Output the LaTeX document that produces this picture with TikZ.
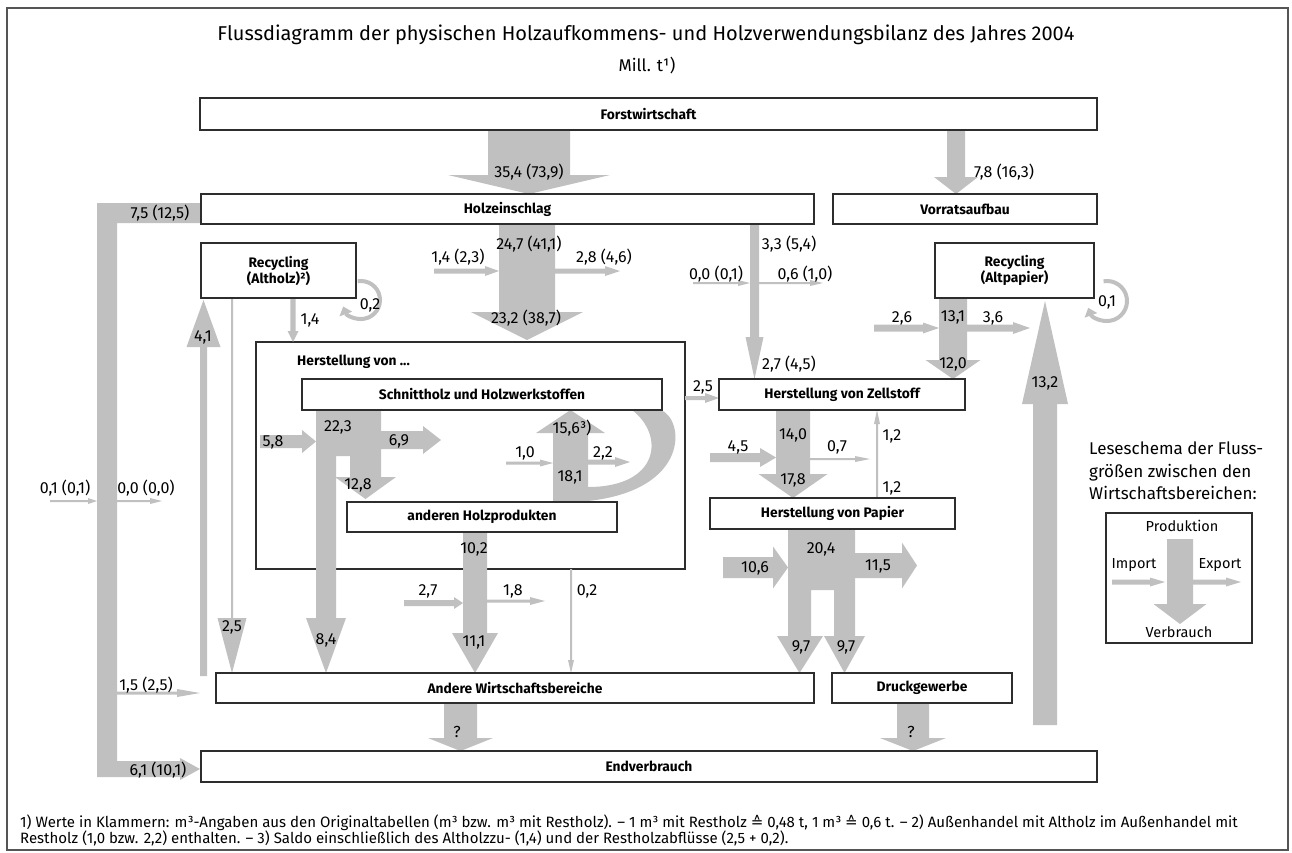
\documentclass[tikz,border=0pt]{standalone}
\usepackage{fontspec}
\setmainfont{Fira Sans}
\newfontfamily\dejavu{DejaVu Sans}
\usetikzlibrary{arrows.meta}
\definecolor{flow}{RGB}{192,192,192}
\definecolor{edge}{RGB}{45,45,45}
\definecolor{framec}{RGB}{85,85,85}
% vertical flow arrow: x-centre, y-start, y-headbase, y-tip, half shaft, half head
\newcommand\VA[6]{\fill[flow] ({#1-#5},#2) -- ({#1+#5},#2) -- ({#1+#5},#3) -- ({#1+#6},#3) -- (#1,#4) -- ({#1-#6},#3) -- ({#1-#5},#3) -- cycle;}
% horizontal flow arrow: y-centre, x-start, x-headbase, x-tip, half shaft, half head
\newcommand\HA[6]{\fill[flow] (#2,{#1-#5}) -- (#2,{#1+#5}) -- (#3,{#1+#5}) -- (#3,{#1+#6}) -- (#4,#1) -- (#3,{#1-#6}) -- (#3,{#1-#5}) -- cycle;}
\newcommand\bx[6]{\node[box, minimum width={#4-#2}, minimum height={#5-#3}] (#1) at ({(#2+#4)/2},{(#3+#5)/2}) {#6};}
\newcommand\lab[4]{\node[num] (#1) at (#2,#3) {#4};}
\begin{document}
\begin{tikzpicture}[x=1pt,y=-1pt,
  box/.style={draw=edge, line width=1.3pt, fill=white, inner sep=0pt, outer sep=0pt,
              font=\fontsize{13.8}{16}\selectfont\bfseries, align=center},
  num/.style={font=\fontsize{16}{18}\selectfont, inner sep=0pt},
  loopline/.style={draw=flow, line width=4pt, -{Triangle[length=8pt,width=13pt]}},
]
\useasboundingbox (0,0) rectangle (1292,852);
\draw[framec, line width=2pt] (7,8) rectangle (1288,850);

% title
\node[font=\fontsize{20}{24}\selectfont] (title) at (646,35) {Flussdiagramm der physischen Holzaufkommens- und Holzverwendungsbilanz des Jahres 2004};
\node[font=\fontsize{17}{20}\selectfont] (unit) at (647,66) {Mill. t¹)};

% outer production box
\node[draw=edge, line width=1.3pt, fill=white, minimum width=429, minimum height=227, inner sep=0pt] (herst) at (470.5,455.5) {};
\node[font=\fontsize{13.8}{16}\selectfont\bfseries, anchor=west, inner sep=0pt] (hersttxt) at (297,362) {Herstellung von ...};

% ---------- flows ----------
% left L-band 7,5
\fill[flow] (97,203) -- (201,203) -- (201,223) -- (117,223) -- (117,761) -- (180,761) -- (180,758)
  -- (200,769) -- (180,780) -- (180,777) -- (97,777) -- cycle;
\HA{501}{50}{88}{97}{1}{3}
\HA{501}{117}{150}{162}{1}{3}
\HA{693}{117}{177}{200}{1.5}{4}

% Forstwirtschaft -> Holzeinschlag / Vorratsaufbau
\VA{529}{130}{175}{194}{41}{81}
\VA{956}{130}{177}{194}{9}{22}

% Holzeinschlag -> Herstellung
\VA{527}{224}{312}{340}{28}{56}
\HA{271}{434}{485}{499}{2.5}{5}
\HA{271}{555}{605}{620}{2.5}{5}

% Holzeinschlag -> Zellstoff
\VA{754.5}{224}{337}{379}{4.5}{9}
\HA{283}{693}{738}{750}{1}{3}
\HA{283}{759}{810}{823}{1}{3}

% Recycling Altholz
\VA{293}{298}{331}{342}{2.7}{5.5}
\VA{203.5}{676}{347}{300}{3.5}{17}
\VA{232}{298}{618}{673}{1}{14.5}
\draw[loopline] (361,300) ++(-100:19) arc[start angle=-100, end angle=160, radius=19];

% Schnittholz flows
\fill[flow] (316,410) -- (381,410) -- (381,477) -- (396,477) -- (365.5,499) -- (335,477) -- (350,477)
  -- (350,456) -- (336,456) -- (336,618) -- (346,618) -- (326,673) -- (306,618) -- (316,618) -- cycle;
\HA{441.5}{260}{302}{316}{6.5}{11.5}
\HA{440}{381}{423}{441}{9}{14}

% anderen Holzprodukten -> Schnittholz (15,6) and loop band
\fill[flow] (661,410) .. controls (685,420) and (690,490) .. (588,501) -- (588,487)
  .. controls (660,487) and (665,435) .. (632,410) -- cycle;
\VA{570.5}{502}{433}{410}{17.5}{34.5}
\HA{463}{506}{540}{553}{1.5}{3.5}
\HA{462}{588}{615}{630}{2.5}{5}

% anderen Holzprodukten -> Andere
\VA{475}{532}{633}{673}{12}{23}
\HA{603}{404}{454}{463}{3}{6}
\HA{601}{487}{530}{545}{1.5}{4}
\VA{571}{569}{660}{673}{1}{3}

% Herstellung -> Zellstoff
\HA{398}{685}{705}{719}{2}{5}

% Recycling Altpapier
\VA{953}{298}{360}{379}{14}{27.5}
\HA{328}{874}{923}{939}{3.5}{5.5}
\HA{328}{967}{1013}{1030}{3.5}{6}
\draw[loopline] (1107,301) ++(-100:20) arc[start angle=-100, end angle=160, radius=20];
\VA{1045}{725}{404}{301}{12}{23}

% Zellstoff -> Papier
\VA{793}{410}{474}{498}{17}{34.5}
\HA{457.5}{710}{760}{776}{4.5}{9.5}
\HA{459}{810}{855}{870}{1}{3}
\VA{877}{498}{424}{410}{1}{3}

% Papier -> Andere / Druckgewerbe
\fill[flow] (788,529) -- (855,529) -- (855,636) -- (865,636) -- (844.5,673) -- (824,636) -- (834,636)
  -- (834,590) -- (811,590) -- (811,636) -- (823,636) -- (799.5,673) -- (777,636) -- (788,636) -- cycle;
\HA{567.5}{723}{773}{788}{10.5}{21}
\HA{565.5}{855}{902}{917}{12.5}{23}

% -> Endverbrauch
\VA{460.5}{703}{738}{751}{16.5}{32.5}
\VA{913}{703}{738}{751}{16}{33}

% ---------- boxes ----------
\bx{forst}{200}{98}{1097}{130}{Forstwirtschaft}
\bx{holz}{201}{194}{814}{224}{Holzeinschlag}
\bx{vorrat}{833}{194}{1097}{224}{Vorratsaufbau}
\bx{recA}{201}{243}{356}{298}{Recycling\\(Altholz)²)}
\bx{recP}{935}{243}{1094}{298}{Recycling\\(Altpapier)}
\bx{schnitt}{302}{379}{662}{410}{Schnittholz und Holzwerkstoffen}
\bx{andHolz}{347}{502}{617}{532}{anderen Holzprodukten}
\bx{zell}{719}{379}{965}{410}{Herstellung von Zellstoff}
\bx{papier}{710}{498}{955}{529}{Herstellung von Papier}
\bx{andere}{216}{673}{814}{703}{Andere Wirtschaftsbereiche}
\bx{druck}{832}{673}{1012}{703}{Druckgewerbe}
\bx{endv}{201}{751}{1097}{782}{Endverbrauch}

% ---------- labels ----------
\lab{a1}{529}{172}{35,4 (73,9)}
\node[num, anchor=west] (a2) at (974,172) {7,8 (16,3)};
\lab{a3}{160}{213}{7,5 (12,5)}
\lab{a4}{529}{244}{24,7 (41,1)}
\lab{a5}{458}{257}{1,4 (2,3)}
\lab{a6}{604}{257}{2,8 (4,6)}
\lab{a7}{526}{318}{23,2 (38,7)}
\lab{a8}{789}{244}{3,3 (5,4)}
\lab{a9}{716}{274}{0,0 (0,1)}
\lab{a10}{805}{274}{0,6 (1,0)}
\lab{a11}{789}{364}{2,7 (4,5)}
\lab{a12}{310}{320}{1,4}
\lab{a13}{370}{305}{0,2}
\lab{a14}{203}{337}{4,1}
\lab{a15}{703}{387}{2,5}
\lab{a16}{338}{427}{22,3}
\lab{a17}{273}{442}{5,8}
\lab{a18}{399}{441}{6,9}
\lab{a19}{358}{485}{12,8}
\lab{a20}{572}{428}{15,6³)}
\lab{a21}{525}{453}{1,0}
\lab{a22}{603}{453}{2,2}
\lab{a23}{570}{477}{18,1}
\lab{a24}{793}{435}{14,0}
\lab{a25}{738}{447}{4,5}
\lab{a26}{837}{447}{0,7}
\lab{a27}{793}{480}{17,8}
\lab{a28}{892}{436}{1,2}
\lab{a29}{892}{488}{1,2}
\lab{a30}{953}{317}{13,1}
\lab{a31}{902}{318}{2,6}
\lab{a32}{993}{318}{3,6}
\lab{a33}{953}{364}{12,0}
\lab{a34}{1107}{302}{0,1}
\lab{a35}{1045}{383}{13,2}
\lab{a36}{474}{549}{10,2}
\lab{a37}{821}{549}{20,4}
\lab{a38}{755}{568}{10,6}
\lab{a39}{878}{566}{11,5}
\lab{a40}{428}{591}{2,7}
\lab{a41}{513}{591}{1,8}
\lab{a42}{587}{591}{0,2}
\lab{a43}{65}{488}{0,1 (0,1)}
\lab{a44}{146}{488}{0,0 (0,0)}
\lab{a45}{232}{627}{2,5}
\lab{a46}{326}{640}{8,4}
\lab{a47}{474}{642}{11,1}
\lab{a48}{801}{647}{9,7}
\lab{a49}{846}{647}{9,7}
\lab{a50}{146}{685}{1,5 (2,5)}
\lab{a51}{457}{732}{?}
\lab{a52}{911}{732}{?}
\lab{a53}{158}{770}{6,1 (10,1)}

% ---------- legend ----------
\node[font=\fontsize{17}{20}\selectfont, anchor=base west, inner sep=0pt] (lg1) at (1089,454) {Leseschema der Fluss-};
\node[font=\fontsize{17}{20}\selectfont, anchor=base west, inner sep=0pt] (lg2) at (1089,477) {größen zwischen den};
\node[font=\fontsize{17}{20}\selectfont, anchor=base west, inner sep=0pt] (lg3) at (1089,499) {Wirtschaftsbereichen:};
\node[draw=edge, line width=1.3pt, minimum width=146, minimum height=130, inner sep=0pt] (legbox) at (1179,578) {};
\VA{1180}{539}{604}{624}{13}{26.5}
\HA{582}{1112}{1150}{1165}{2.5}{4.5}
\HA{582}{1193}{1226}{1241}{2.5}{4.5}
\node[num, font=\fontsize{14.5}{16}\selectfont] (lgp) at (1182,526) {Produktion};
\node[num, font=\fontsize{14.5}{16}\selectfont] (lgi) at (1134,565) {Import};
\node[num, font=\fontsize{14.5}{16}\selectfont] (lge) at (1220,565) {Export};
\node[num, font=\fontsize{14.5}{16}\selectfont] (lgv) at (1179,632) {Verbrauch};

% ---------- footnote ----------
\node[font=\fontsize{15}{17}\selectfont, anchor=base west, inner sep=0pt] (fn1) at (20,827)
 {1) Werte in Klammern: m³-Angaben aus den Originaltabellen (m³ bzw. m³ mit Restholz). – 1 m³ mit Restholz {\dejavu ≙} 0,48 t, 1 m³ {\dejavu ≙} 0,6 t. – 2) Außenhandel mit Altholz im Außenhandel mit};
\node[font=\fontsize{15}{17}\selectfont, anchor=base west, inner sep=0pt] (fn2) at (20,843)
 {Restholz (1,0 bzw. 2,2) enthalten. – 3) Saldo einschließlich des Altholzzu- (1,4) und der Restholzabflüsse (2,5 + 0,2).};
\end{tikzpicture}
\end{document}
